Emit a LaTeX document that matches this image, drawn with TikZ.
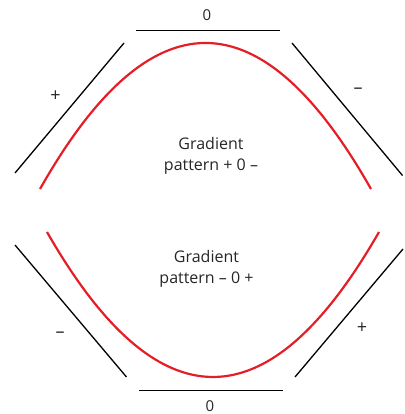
\documentclass[tikz,border=0pt]{standalone}
\usepackage{fontspec}
\setmainfont{Open Sans}
\usetikzlibrary{positioning}
\definecolor{curvered}{RGB}{228,30,38}

\begin{document}
\begin{tikzpicture}[x=1pt, y=-1pt, line width=1.3pt,
        sign/.style={inner sep=0pt, anchor=base, font=\fontsize{15}{18}\selectfont, text=black!85},
        bigsign/.style={sign, font=\fontsize{18}{20}\selectfont},
        caption/.style={inner sep=0pt, align=center, font=\fontsize{16}{21}\selectfont, text=black!85},
        curve/.style={curvered, line width=2.2pt}]
        \useasboundingbox (0,0) rectangle (404,414);

        % upper half: + 0 -
        \coordinate (TopZeroL) at (136,30.5);
        \coordinate (TopZeroR) at (280,30.5);
        \coordinate (TopPlusB) at (15,173);
        \coordinate (TopPlusT) at (124,43);
        \coordinate (TopMinusT) at (292,43);
        \coordinate (TopMinusB) at (402.5,175.5);
        \coordinate (TopCurveL) at (40,189);
        \coordinate (TopCurveR) at (371,189);

        \node[sign] (TopZero) at (207,20.5) {0};
        \node[bigsign] (TopPlus) at (55.5,101.5) {+};
        \node[bigsign] (TopMinus) at (358,94) {–};
        \node[caption] (TopText) at (211,156) {Gradient\\pattern + 0 –};

        \draw (TopZeroL) -- (TopZeroR);
        \draw (TopPlusB) -- (TopPlusT);
        \draw (TopMinusT) -- (TopMinusB);
        \draw[curve] (TopCurveL) .. controls (150.3,-5.7) and (260.7,-5.7) .. (TopCurveR);

        % lower half: - 0 +
        \coordinate (BotZeroL) at (139,390.5);
        \coordinate (BotZeroR) at (283,390.5);
        \coordinate (BotMinusT) at (15,245);
        \coordinate (BotMinusB) at (126.5,377);
        \coordinate (BotPlusB) at (295,377);
        \coordinate (BotPlusT) at (403,249);
        \coordinate (BotCurveL) at (47,232);
        \coordinate (BotCurveR) at (379,232);

        \node[sign] (BotZero) at (210,411) {0};
        \node[bigsign] (BotMinus) at (60,337.5) {–};
        \node[bigsign] (BotPlus) at (362,333.5) {+};
        \node[caption] (BotText) at (206.5,269) {Gradient\\pattern – 0 +};

        \draw (BotZeroL) -- (BotZeroR);
        \draw (BotMinusT) -- (BotMinusB);
        \draw (BotPlusB) -- (BotPlusT);
        \draw[curve] (BotCurveL) .. controls (157.7,425.3) and (268.3,425.3) .. (BotCurveR);
\end{tikzpicture}
\end{document}
